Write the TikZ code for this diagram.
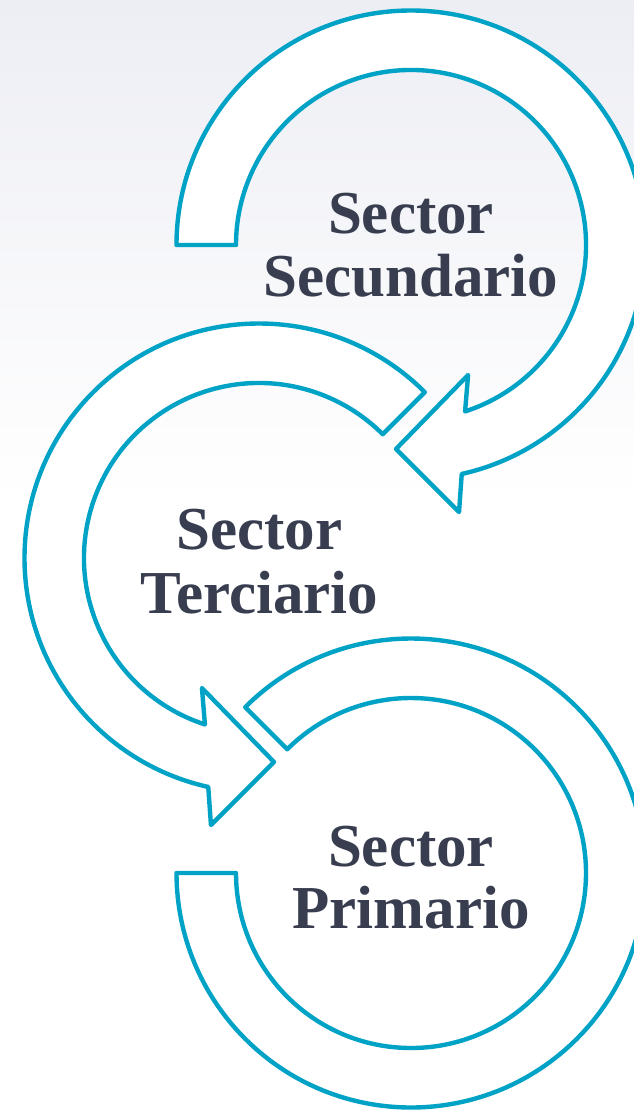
\documentclass[tikz,border=0pt]{standalone}
\usepackage{fontspec}
\setmainfont{Liberation Serif}
\definecolor{arrowc}{RGB}{0,163,198}
\definecolor{txtc}{RGB}{56,62,79}
\definecolor{bgtop}{RGB}{237,238,244}
\begin{document}
\begin{tikzpicture}[x=1pt,y=1pt,
  ring/.style={draw=arrowc, line width=4.4pt, fill=white, line join=round},
  lbl/.style={font=\bfseries\fontsize{61}{63}\selectfont, text=txtc, anchor=base, inner sep=0pt}]
\useasboundingbox (0,0) rectangle (634,-1111);
\clip (0,0) rectangle (634,-1111);
\shade[top color=bgtop, bottom color=white] (0,0) rectangle (634,-500);
\fill[white] (0,-499) rectangle (634,-1111);
% arrow 1 (Secundario)
\draw[ring, shift={(411,-245)}] (180:175) -- (180:234.5)
  arc[start angle=180, end angle=-77.5, radius=234.5]
  -- (-79.8:271.3) -- (-94.2:204.5) -- (-66.3:142) -- (-72:175)
  arc[start angle=-72, end angle=180, radius=175] -- cycle;
% arrow 2 (Terciario)
\draw[ring, shift={(259,-558)}] (45:175) -- (45:234.5)
  arc[start angle=45, end angle=257.5, radius=234.5]
  -- (259.8:271.3) -- (274.2:204.5) -- (246.3:142) -- (252:175)
  arc[start angle=252, end angle=45, radius=175] -- cycle;
% arrow 3 (Primario)
\draw[ring, shift={(411,-873)}] (135:175) -- (135:234.5)
  arc[start angle=135, end angle=-180, radius=234.5]
  -- (180:175)
  arc[start angle=180, end angle=495, radius=175] -- cycle;
% labels
\node[lbl] (s1a) at (411,-233) {Sector};
\node[lbl] (s1b) at (411,-296) {Secundario};
\node[lbl] (s2a) at (259.5,-549) {Sector};
\node[lbl] (s2b) at (259.5,-613) {Terciario};
\node[lbl] (s3a) at (411,-866) {Sector};
\node[lbl] (s3b) at (411,-928) {Primario};
\end{tikzpicture}
\end{document}
